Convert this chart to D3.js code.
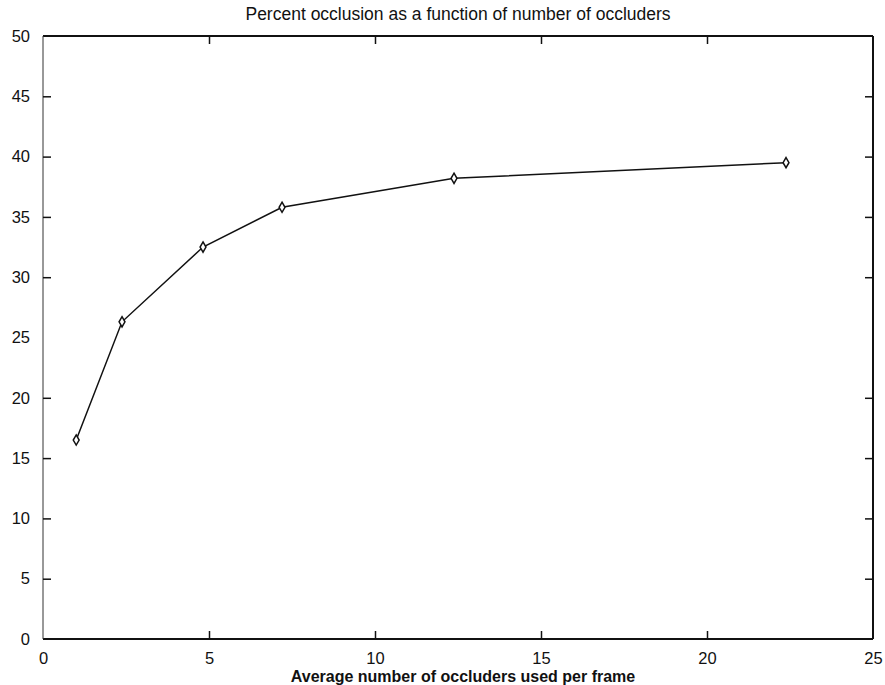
<!DOCTYPE html>
<html>
<head>
<meta charset="utf-8">
<script src="https://cdn.jsdelivr.net/npm/d3@7"></script>
<style>
  body { margin: 0; background: #fff; }
  svg text { font-family: "Liberation Sans", Arial, sans-serif; fill: #111; }
</style>
</head>
<body>
<div id="chart"></div>
<script>
// occluders per frame vs percent occlusion
const occluders = [1.0, 2.38, 4.82, 7.2, 12.38, 22.38];
const occlusion = [16.5, 26.3, 32.5, 35.8, 38.2, 39.5];
const xTicks = [0, 5, 10, 15, 20, 25];
const yTicks = [0, 5, 10, 15, 20, 25, 30, 35, 40, 45, 50];

const width = 885, height = 685;
const margin = {top: 36, right: 12, bottom: 46, left: 43};

const svg = d3.select("#chart").append("svg")
    .attr("width", width)
    .attr("height", height);

const x = d3.scaleLinear().domain([0, 25]).range([margin.left, width - margin.right]);
const y = d3.scaleLinear().domain([0, 50]).range([height - margin.bottom, margin.top]);

const tickLen = 8;

// frame
svg.append("line").attr("x1", x(0)).attr("x2", x(25)).attr("y1", y(0)).attr("y2", y(0))
    .attr("stroke", "#111").attr("stroke-width", 2);
svg.append("line").attr("x1", x(0)).attr("x2", x(25)).attr("y1", y(50)).attr("y2", y(50))
    .attr("stroke", "#111").attr("stroke-width", 2);
svg.append("line").attr("x1", x(25)).attr("x2", x(25)).attr("y1", y(0)).attr("y2", y(50))
    .attr("stroke", "#111").attr("stroke-width", 2);
svg.append("line").attr("x1", x(0)).attr("x2", x(0)).attr("y1", y(0)).attr("y2", y(50))
    .attr("stroke", "#333").attr("stroke-width", 1);

// inward ticks, mirrored on both sides
const xAxisB = d3.axisBottom(x).tickValues(xTicks).tickSize(-tickLen).tickPadding(13);
const xAxisT = d3.axisTop(x).tickValues(xTicks).tickSize(-tickLen).tickFormat("");
const yAxisL = d3.axisLeft(y).tickValues(yTicks).tickSize(-tickLen).tickPadding(13);
const yAxisR = d3.axisRight(y).tickValues(yTicks).tickSize(-tickLen).tickFormat("");

function styleAxis(g) {
  g.select(".domain").remove();
  g.selectAll(".tick line").attr("stroke", "#111").attr("stroke-width", 1.5);
  g.selectAll(".tick text").attr("font-size", 16.5).style("fill", "#111");
}

svg.append("g").attr("transform", `translate(0,${y(0)})`).call(xAxisB).call(styleAxis);
svg.append("g").attr("transform", `translate(0,${y(50)})`).call(xAxisT).call(styleAxis);
svg.append("g").attr("transform", `translate(${x(0)},0)`).call(yAxisL).call(styleAxis);
svg.append("g").attr("transform", `translate(${x(25)},0)`).call(yAxisR).call(styleAxis);

// hide end ticks that sit on the frame
svg.selectAll(".tick").filter(d => d === 0 || d === 25 || d === 50).select("line").remove();

const pts = occluders.map((d, i) => ({x: d, y: occlusion[i]}));

const line = d3.line().x(d => x(d.x)).y(d => y(d.y));
svg.append("path")
    .datum(pts)
    .attr("d", line)
    .attr("fill", "none")
    .attr("stroke", "#111")
    .attr("stroke-width", 1.5);

// diamond markers
svg.selectAll("path.marker")
    .data(pts)
    .join("path")
    .attr("class", "marker")
    .attr("d", d3.symbol(d3.symbolDiamond, 30))
    .attr("transform", d => `translate(${x(d.x)},${y(d.y)})`)
    .attr("fill", "#fff")
    .attr("stroke", "#111")
    .attr("stroke-width", 1.5);

// title and axis label
svg.append("text")
    .attr("x", 458)
    .attr("y", 20)
    .attr("text-anchor", "middle")
    .attr("font-size", 17.5)
    .text("Percent occlusion as a function of number of occluders");

svg.append("text")
    .attr("x", 463)
    .attr("y", 682)
    .attr("text-anchor", "middle")
    .attr("font-size", 16)
    .attr("font-weight", "bold")
    .text("Average number of occluders used per frame");
</script>
</body>
</html>
